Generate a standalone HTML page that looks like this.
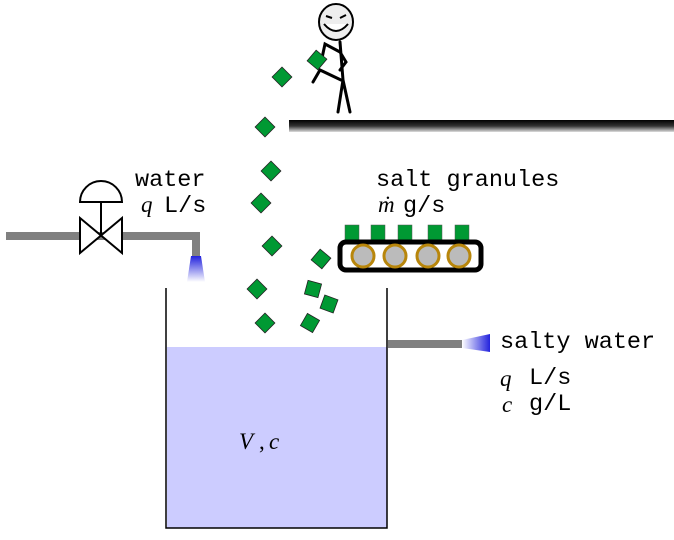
<!DOCTYPE html>
<html><head><style>body{margin:0;background:#fff}svg{display:block}</style></head><body>
<svg width="674" height="540" viewBox="0 0 674 540" xmlns="http://www.w3.org/2000/svg">
<defs>
<linearGradient id="cone" x1="0" y1="0" x2="0" y2="1"><stop offset="0" stop-color="#2222dd"/><stop offset="1" stop-color="#ffffff"/></linearGradient>
<linearGradient id="cone2" x1="1" y1="0" x2="0" y2="0"><stop offset="0" stop-color="#2222dd"/><stop offset="1" stop-color="#ffffff"/></linearGradient>
<linearGradient id="ledge" x1="0" y1="0" x2="0" y2="1"><stop offset="0" stop-color="#000"/><stop offset="0.5" stop-color="#333"/><stop offset="1" stop-color="#ddd"/></linearGradient>
</defs>
<rect x="289" y="120" width="385" height="12" fill="url(#ledge)"/>
<g stroke="#000" stroke-width="3" fill="none" stroke-linecap="round">
<path d="M340 42 L343 80 L338 112 M343 80 L350 112 M340 52 L325 44 L322 58 M340 52 L346 62 L340 70 M341 80 L320 70 L313 82"/>
</g>
<ellipse cx="336" cy="22" rx="17" ry="18" fill="#eee" stroke="#000" stroke-width="2"/>
<path d="M324 24 Q336 38 348 24" fill="#fff" stroke="#000" stroke-width="2"/>
<path d="M326 16 L332 18 M340 18 L346 15" stroke="#000" stroke-width="2"/>
<path d="M6 236 H196 V256" stroke="#808080" stroke-width="8" fill="none"/>
<polygon points="191,256 201,256 205,282 187,282" fill="url(#cone)"/>
<path d="M101 235 V202" stroke="#000" stroke-width="2"/>
<path d="M80 202 A21 21 0 0 1 122 202 Z" fill="#fff" stroke="#000" stroke-width="2"/>
<polygon points="80,218 122,253 122,218 80,253" fill="#fff" stroke="#000" stroke-width="2"/>
<rect x="167" y="347" width="220" height="181" fill="#ccccff"/>
<path d="M166 288 V528 H387 V288" stroke="#000" stroke-width="1.5" fill="none"/>
<rect x="388" y="340" width="75" height="8" fill="#808080"/>
<polygon points="462,340 490,334 490,352 462,348" fill="url(#cone2)"/>
<g fill="#009933" stroke="#555" stroke-width="0.5">
<rect x="345" y="225" width="14" height="15"/><rect x="371" y="225" width="14" height="15"/><rect x="398" y="225" width="14" height="15"/><rect x="428" y="225" width="14" height="15"/><rect x="455" y="225" width="14" height="15"/>
</g>
<rect x="340" y="242" width="141" height="28" rx="6" fill="#fff" stroke="#000" stroke-width="5"/>
<g fill="#bbb" stroke="#b8860b" stroke-width="3">
<circle cx="363" cy="256" r="11"/><circle cx="395" cy="256" r="11"/><circle cx="428" cy="256" r="11"/><circle cx="459" cy="256" r="11"/>
</g>
<g fill="#009933" stroke="#222" stroke-width="0.8">
<rect x="-7" y="-7" width="14" height="14" transform="translate(282,77) rotate(45)"/>
<rect x="-7" y="-7" width="14" height="14" transform="translate(317,60) rotate(40)"/>
<rect x="-7" y="-7" width="14" height="14" transform="translate(265,127) rotate(45)"/>
<rect x="-7" y="-7" width="14" height="14" transform="translate(271,171) rotate(45)"/>
<rect x="-7" y="-7" width="14" height="14" transform="translate(261,203) rotate(45)"/>
<rect x="-7" y="-7" width="14" height="14" transform="translate(272,246) rotate(45)"/>
<rect x="-7" y="-7" width="14" height="14" transform="translate(321,259) rotate(40)"/>
<rect x="-7" y="-7" width="14" height="14" transform="translate(257,289) rotate(45)"/>
<rect x="-7" y="-7" width="14" height="14" transform="translate(313,289) rotate(15)"/>
<rect x="-7" y="-7" width="14" height="14" transform="translate(329,304) rotate(20)"/>
<rect x="-7" y="-7" width="14" height="14" transform="translate(265,323) rotate(45)"/>
<rect x="-7" y="-7" width="14" height="14" transform="translate(310,323) rotate(30)"/>
</g>
<g font-family="Liberation Mono, monospace" font-size="23.5" fill="#000">
<text x="135" y="186">water</text>
<text x="164" y="212">L/s</text>
<text x="376" y="186">salt granules</text>
<text x="403" y="212">g/s</text>
<text x="500" y="348">salty water</text>
<text x="529" y="384">L/s</text>
<text x="529" y="410">g/L</text>
</g>
<g font-family="Liberation Serif, serif" font-style="italic" font-size="23" fill="#000">
<text x="141" y="212">q</text>
<text x="378" y="212">ṁ</text>
<text x="500" y="386">q</text>
<text x="502" y="412">c</text>
<text x="239" y="449">V</text><text x="259" y="449" font-style="normal">,</text><text x="269" y="449">c</text>
</g>
</svg>
</body></html>
